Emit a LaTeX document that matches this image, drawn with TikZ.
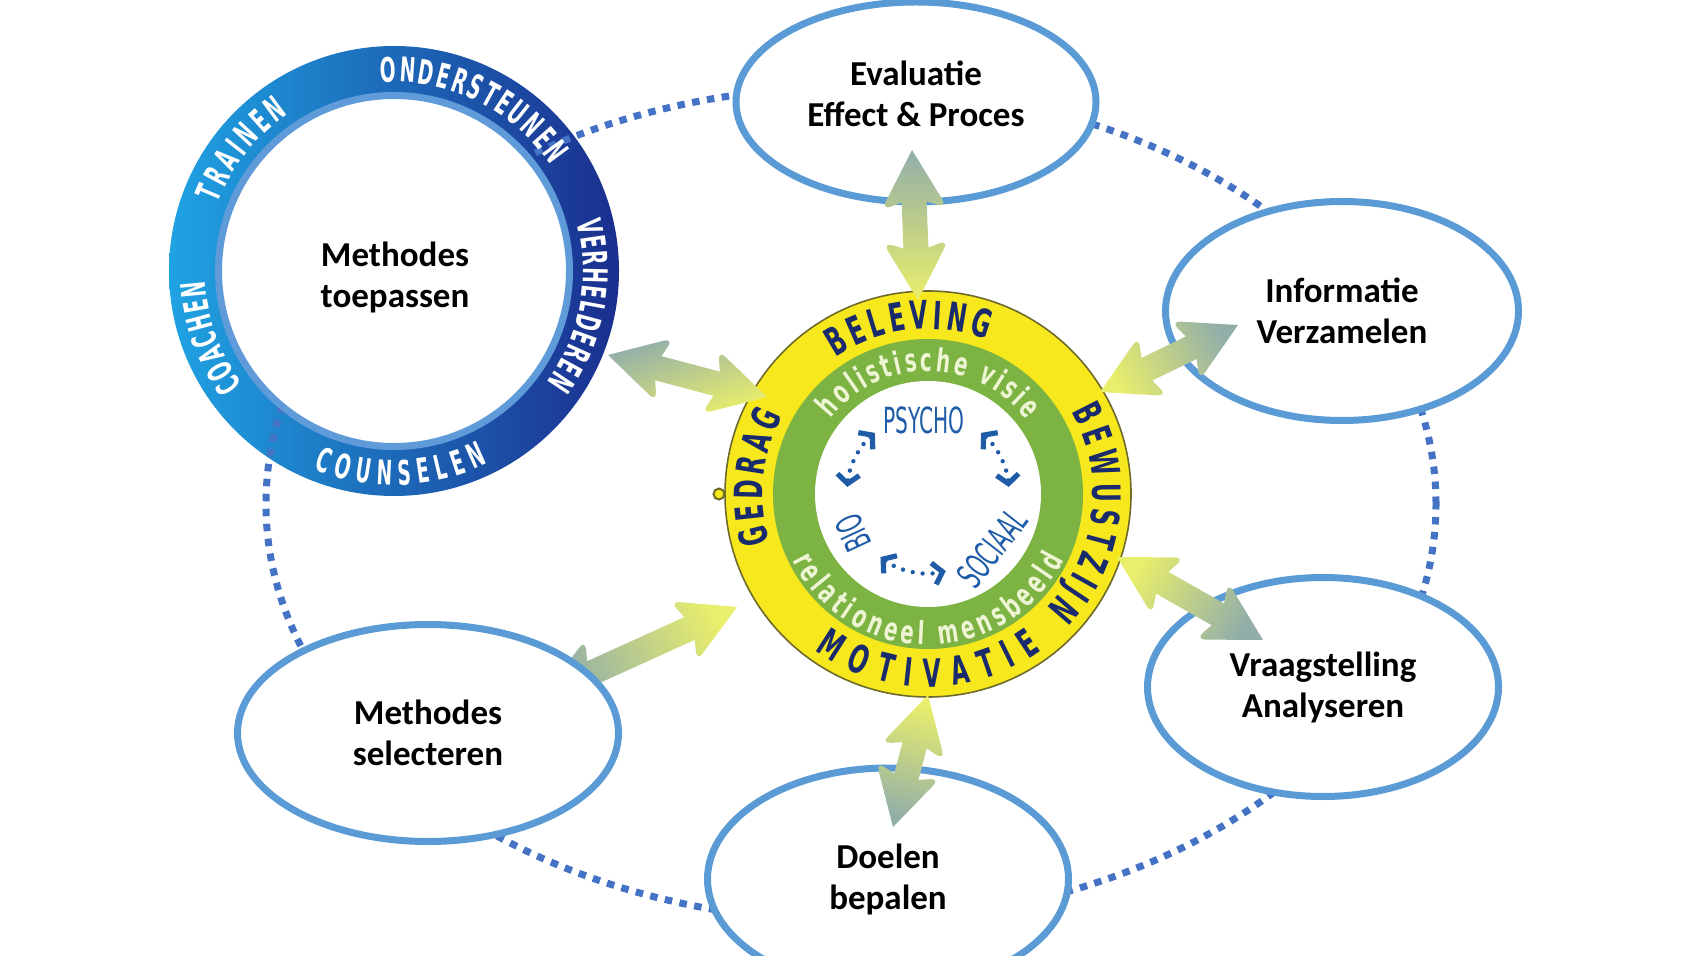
\documentclass[tikz,border=0pt]{standalone}
\usepackage{fontspec}
\setmainfont{Carlito}
\newfontfamily\ringfam[FakeStretch=0.55]{DejaVu Sans}
\newfontfamily\heavyfam[FakeStretch=0.6]{DejaVu Sans}
\newfontfamily\grnfam[FakeStretch=0.62]{DejaVu Sans}
\newfontfamily\psyfam[FakeStretch=0.56]{DejaVu Sans}
\usetikzlibrary{shapes.geometric,decorations.text,arrows.meta,calc}

\definecolor{ellblue}{HTML}{5B9BD5}
\definecolor{dotblue}{HTML}{4472C4}
\definecolor{ringL}{HTML}{1FA3E3}
\definecolor{ringR}{HTML}{1B2E8E}
\definecolor{ringIn}{HTML}{5E9BD8}
\definecolor{yel}{HTML}{F7E81E}
\definecolor{yelEdge}{HTML}{6E6A2A}
\definecolor{grn}{HTML}{7CB342}
\definecolor{grnTxt}{HTML}{EEF5D5}
\definecolor{navy}{HTML}{1A2B6D}
\definecolor{psy}{HTML}{1F5CA8}
\definecolor{arrY}{HTML}{E9EE6C}
\definecolor{arrG}{HTML}{92AEA9}

\newcommand\ringfmt{\ringfam\bfseries\fontsize{17}{17}\selectfont\color{white}}
\newcommand\heavyfmt{\heavyfam\bfseries\fontsize{19.5}{19.5}\selectfont\color{navy}}
\newcommand\grnfmt{\grnfam\bfseries\fontsize{16}{16}\selectfont\color{grnTxt}}
\newcommand\psyfmt{\psyfam\fontsize{18}{18}\selectfont}

\def\AH{29.5}
\def\AW{16.5}
\def\AS{6.25}
\def\AJ{26}
\newcommand\fatarrow[3]{%
 \shade[bottom color=arrY, top color=arrG, shading angle=#3]
  let \p1=(#1), \p2=(#2), \n1={atan2(\y2-\y1,\x2-\x1)}, \n2={veclen(\x2-\x1,\y2-\y1)},
      \n3={cos(\n1)}, \n4={sin(\n1)} in
  (\x1,\y1)
  [rounded corners=5pt] -- ({\x1+\AH*\n3-\AW*\n4},{\y1+\AH*\n4+\AW*\n3})
  [sharp corners] -- ({\x1+\AJ*\n3-\AS*\n4},{\y1+\AJ*\n4+\AS*\n3})
  -- ({\x1+(\n2-\AJ)*\n3-\AS*\n4},{\y1+(\n2-\AJ)*\n4+\AS*\n3})
  [rounded corners=5pt] -- ({\x1+(\n2-\AH)*\n3-\AW*\n4},{\y1+(\n2-\AH)*\n4+\AW*\n3})
  [sharp corners] -- (\x2,\y2)
  [rounded corners=5pt] -- ({\x1+(\n2-\AH)*\n3+\AW*\n4},{\y1+(\n2-\AH)*\n4-\AW*\n3})
  [sharp corners] -- ({\x1+(\n2-\AJ)*\n3+\AS*\n4},{\y1+(\n2-\AJ)*\n4-\AS*\n3})
  -- ({\x1+\AJ*\n3+\AS*\n4},{\y1+\AJ*\n4-\AS*\n3})
  [rounded corners=5pt] -- ({\x1+\AH*\n3+\AW*\n4},{\y1+\AH*\n4-\AW*\n3})
  [sharp corners] -- cycle;
}

\tikzset{
  lbl/.style={font=\bfseries\fontsize{17.5}{20.5}\selectfont, align=center, text=black},
  oval/.style={ellipse, draw=ellblue, line width=3.5pt, fill=white, inner sep=0pt},
  dotline/.style={draw=dotblue, line width=3.5pt, dash pattern=on 3.75pt off 3.75pt},
  disc/.style={circle, inner sep=0pt},
  psyarr/.style={draw=psy, line width=2.2pt, dash pattern=on 0pt off 5pt, line cap=round,
     >={Straight Barb[length=4.5pt,width=11pt,line width=2.6pt]}, <->},
  curved/.style={decorate, decoration={text along path, text align={fit to path}, text={#1}}}
}

\begin{document}
\begin{tikzpicture}[x=0.5pt,y=0.5pt]
\useasboundingbox (0,0) rectangle (1700,-956);
\clip (0,0) rectangle (1700,-956);
\fill[white] (0,0) rectangle (1700,-956);

% blue ring
\node[disc, minimum size=225pt, left color=ringL, right color=ringR] (ring) at (394,-271) {};
% dotted cycle
\draw[dotline] (851,-504) ellipse [x radius=585, y radius=417];
\node[disc, minimum size=175.5pt, fill=white, draw=ringIn, line width=3.5pt] (mtoep) at (394,-271) {};
\node[lbl] (mtoeptxt) at (395,-277) {Methodes\\toepassen};

\path[curved={|\ringfmt|TRAINEN}] ([shift={(159:189)}]ring.center) arc[start angle=159, end angle=124, radius=189];
\path[curved={|\ringfmt|ONDERSTEUNEN}] ([shift={(94:189)}]ring.center) arc[start angle=94, end angle=34, radius=189];
\path[curved={|\ringfmt|VERHELDEREN}] ([shift={(15:189)}]ring.center) arc[start angle=15, end angle=-36, radius=189];
\path[curved={|\ringfmt|COACHEN}] ([shift={(217:189)}]ring.center) arc[start angle=217, end angle=183, radius=189];
\path[curved={|\ringfmt|COUNSELEN}] ([shift={(-112:214)}]ring.center) arc[start angle=-112, end angle=-64, radius=214];

% central circle
\node[disc, minimum size=203pt, fill=yel, draw=yelEdge, line width=0.8pt] (kern) at (928,-494) {};
\node[disc, minimum size=155pt, fill=grn] (groen) at (928,-494) {};
\node[disc, minimum size=113pt, fill=white] (wit) at (928,-494) {};

\path[curved={|\heavyfmt|BELEVING}] ([shift={(124:165)}]kern.center) arc[start angle=124, end angle=69, radius=165];
\path[curved={|\heavyfmt|BEWUSTZIJN}] ([shift={(30:165)}]kern.center) arc[start angle=30, end angle=-44, radius=165];
\path[curved={|\heavyfmt|GEDRAG}] ([shift={(197:165)}]kern.center) arc[start angle=197, end angle=152, radius=165];
\path[curved={|\heavyfmt|MOTIVATIE}] ([shift={(-126:193)}]kern.center) arc[start angle=-126, end angle=-54, radius=193];

\path[curved={|\grnfmt|holistische visie}] ([shift={(142:123)}]kern.center) arc[start angle=142, end angle=37, radius=123];
\path[curved={|\grnfmt|relationeel mensbeeld}] ([shift={(206:151)}]kern.center) arc[start angle=206, end angle=334, radius=151];

\node[font=\psyfmt, text=psy, inner sep=0pt] (psycho) at (924,-420) {PSYCHO};
\node[font=\psyfmt, text=psy, inner sep=0pt, rotate=52] (sociaal) at (992,-548) {SOCIAAL};
\node[font=\psyfmt, text=psy, inner sep=0pt, rotate=115] (bio) at (853,-533) {BIO};

\draw[psyarr] ([shift={(131:81)}]wit.center) arc[start angle=131, end angle=175, radius=81];
\draw[psyarr] ([shift={(49:81)}]wit.center) arc[start angle=49, end angle=5, radius=81];
\draw[psyarr] ([shift={(233:79)}]wit.center) arc[start angle=233, end angle=283, radius=79];

\node[disc, minimum size=5.5pt, fill=yel, draw=yelEdge, line width=1pt] (handle) at (719,-494) {};

% process ellipses
\node[oval, minimum width=180pt, minimum height=100pt] (eval) at (916,-102) {};
\node[lbl] (evaltxt) at (916,-94) {Evaluatie\\Effect \& Proces};
\node[oval, lbl, minimum width=176.5pt, minimum height=109.5pt] (info) at (1342,-311) {Informatie\\Verzamelen};
\node[oval, lbl, minimum width=175.5pt, minimum height=109.5pt] (vraag) at (1323,-687) {Vraagstelling\\Analyseren};
\node[oval, lbl, minimum width=180.5pt, minimum height=111pt] (doel) at (888,-879) {Doelen\\bepalen};

% arrow end points
\coordinate (e1) at (912,-150);  \coordinate (e2) at (918,-300);
\coordinate (i1) at (1238,-325); \coordinate (i2) at (1100,-392);
\coordinate (v1) at (1263,-640); \coordinate (v2) at (1117,-557);
\coordinate (d1) at (893,-827);  \coordinate (d2) at (928,-695);
\coordinate (m1) at (545,-694);  \coordinate (m2) at (737,-607);
\coordinate (r1) at (608,-355);  \coordinate (r2) at (767,-397);

\fatarrow{e1}{e2}{0}
\fatarrow{i1}{i2}{-64}
\fatarrow{v1}{v2}{-120}
\fatarrow{d1}{d2}{-195}
\fatarrow{r1}{r2}{20}
\fatarrow{m1}{m2}{114}

\node[oval, lbl, minimum width=190.5pt, minimum height=108.5pt] (msel) at (428,-733) {Methodes\\selecteren};
\end{tikzpicture}
\end{document}
